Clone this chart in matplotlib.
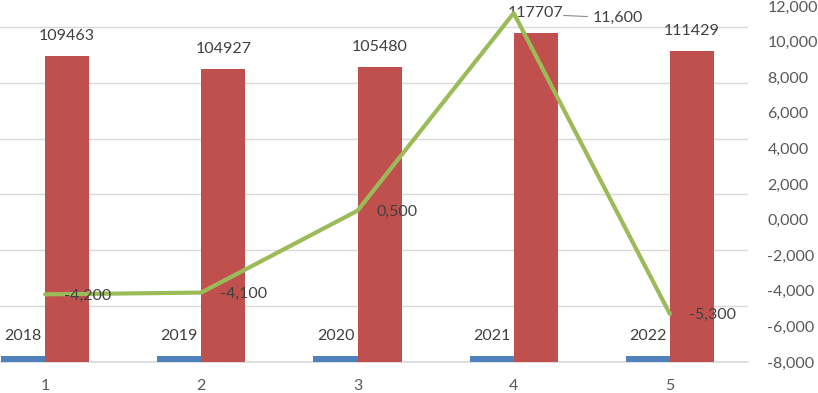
import matplotlib
matplotlib.use("Agg")
import matplotlib.pyplot as plt
import numpy as np

plt.rcParams['font.family'] = ['Lato', 'DejaVu Sans']

categories = ['1', '2', '3', '4', '5']
years = [2018, 2019, 2020, 2021, 2022]
totals = [109463, 104927, 105480, 117707, 111429]
growth = [-4.2, -4.1, 0.5, 11.6, -5.3]

blue = '#4f81bd'
red = '#c0504d'
green = '#9bbb59'
grid_c = '#d9d9d9'
txt_c = '#404040'
tick_c = '#595959'
fs = 11.5

fig = plt.figure(figsize=(8.18, 3.93), dpi=100)
# plot area runs off the left edge, as in the reference crop
ax = fig.add_axes([-33 / 818, 31 / 393, 781 / 818, 356 / 393])
ax2 = ax.twinx()

x = np.arange(1, len(categories) + 1)
w = 0.282

ax.bar(x - w / 2, years, width=w, color=blue, zorder=2)
ax.bar(x + w / 2, totals, width=w, color=red, zorder=2)

ax.set_xlim(0.5, 5.5)
ax.set_ylim(0, 127500)
ax.set_yticks(np.arange(0, 120001, 20000))
ax.set_yticklabels([])
ax.tick_params(axis='y', length=0)
ax.yaxis.grid(True, color=grid_c, linewidth=1.0, zorder=0)
ax.axhline(0, color=grid_c, linewidth=1.2, zorder=1, clip_on=False)
ax.set_axisbelow(True)
ax.set_xticks(x)
ax.set_xticklabels(categories, fontsize=fs, color=tick_c)
ax.tick_params(axis='x', length=0, pad=12)

for xi, v in zip(x, years):
    ax.annotate(str(v), (xi - w / 2, v), xytext=(0, 14.5), textcoords='offset points',
                ha='center', va='center', fontsize=fs, color=txt_c)
for xi, v in zip(x, totals):
    ax.annotate(str(v), (xi + w / 2, v), xytext=(0, 14.5), textcoords='offset points',
                ha='center', va='center', fontsize=fs, color=txt_c)

ax2.plot(x, growth, color=green, linewidth=3, solid_capstyle='round', zorder=3)
ax2.set_ylim(-8, 12)
ax2.set_yticks(np.arange(-8, 12.1, 2))
ax2.set_yticklabels([('%.3f' % t).replace('.', ',') for t in np.arange(-8, 12.1, 2)],
                    fontsize=fs, color=tick_c)
ax2.tick_params(axis='y', length=0, pad=14)

for i, (xi, v) in enumerate(zip(x, growth)):
    lab = ('%.3f' % v).replace('.', ',')
    if v == max(growth):
        ax2.annotate(lab, (xi, v), xytext=(57, -3.5), textcoords='offset points',
                     ha='left', va='center', fontsize=fs, color=txt_c,
                     arrowprops=dict(arrowstyle='-', color='#8c8c8c', lw=0.8,
                                     shrinkA=2, shrinkB=36))
    else:
        ax2.annotate(lab, (xi, v), xytext=(13.5, -1), textcoords='offset points',
                     ha='left', va='center', fontsize=fs, color=txt_c)

for a in (ax, ax2):
    for s in a.spines.values():
        s.set_visible(False)

fig.savefig('out.png', dpi=100)
